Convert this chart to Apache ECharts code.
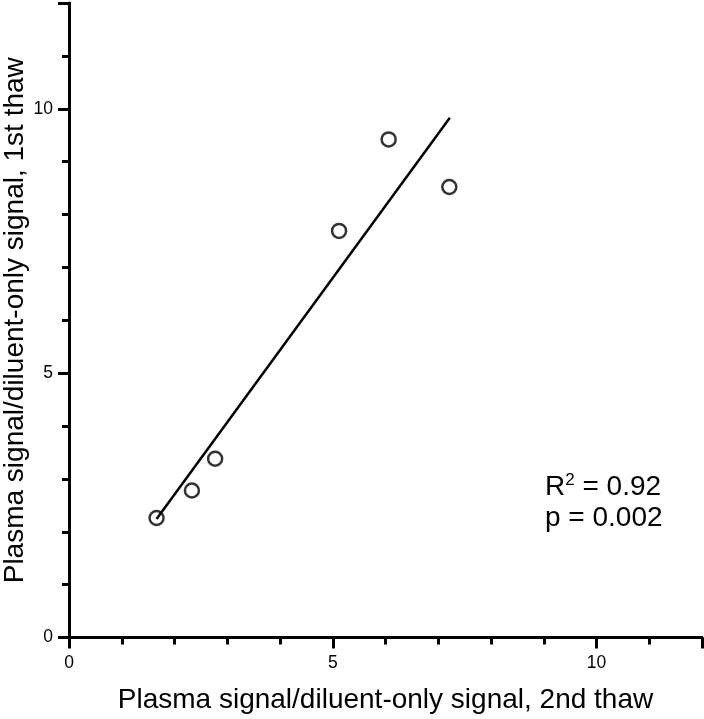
<!DOCTYPE html>
<html>
<head>
<meta charset="utf-8">
<script src="https://cdn.jsdelivr.net/npm/echarts@6/dist/echarts.min.js"></script>
<style>html,body{margin:0;padding:0;background:#fff;}#c{width:704px;height:719px;}</style>
</head>
<body>
<div id="c"></div>
<script>
// Data
var thaw2 = [1.66, 2.33, 2.77, 5.12, 6.06, 7.21];   // x: 2nd thaw
var thaw1 = [2.26, 2.78, 3.38, 7.69, 9.42, 8.52];   // y: 1st thaw
var fitX = [1.66, 7.22];
var fitY = [2.24, 9.83];
var statR2 = '0.92';
var statP = '0.002';
var xName = 'Plasma signal/diluent-only signal, 2nd thaw';
var yName = 'Plasma signal/diluent-only signal, 1st thaw';

var FONT = '"Liberation Sans", Arial, Helvetica, sans-serif';
var pts = thaw2.map(function (x, i) { return [x, thaw1[i]]; });
var fit = fitX.map(function (x, i) { return [x, fitY[i]]; });

function axisCommon(name, nameGap, labelMargin) {
  return {
    type: 'value', min: 0, max: 12, interval: 5,
    name: name, nameLocation: 'middle', nameGap: nameGap, nameMoveOverlap: false,
    nameTextStyle: { fontFamily: FONT, fontSize: 28, color: '#000' },
    axisLine: { show: true, onZero: false, lineStyle: { color: '#000', width: 3 } },
    axisTick: { show: true, inside: false, length: 11, lineStyle: { color: '#000', width: 3 } },
    minorTick: { show: true, splitNumber: 5, length: 7, lineStyle: { color: '#000', width: 3 } },
    splitLine: { show: false },
    minorSplitLine: { show: false },
    axisLabel: {
      show: true, margin: labelMargin, showMaxLabel: false,
      fontFamily: FONT, fontSize: 17.5, color: '#000'
    }
  };
}

var chart = echarts.init(document.getElementById('c'), null, { renderer: 'canvas' });
chart.setOption({
  animation: false,
  backgroundColor: '#fff',
  grid: { left: 69, right: 2, top: 3, bottom: 81.5, containLabel: false, outerBoundsMode: 'none' },
  xAxis: axisCommon(xName, 49, 17),
  yAxis: axisCommon(yName, 40, 16),
  series: [
    {
      type: 'line', data: fit, showSymbol: false, symbol: 'none',
      lineStyle: { color: '#000', width: 2.5 }, z: 2
    },
    {
      type: 'scatter', data: pts, symbol: 'circle', symbolSize: 14,
      itemStyle: { color: 'rgba(0,0,0,0)', borderColor: '#000', borderWidth: 2.5 }, z: 3
    }
  ],
  graphic: [
    {
      type: 'text', left: 545, top: 472,
      style: {
        text: '{a|R}{s|2}{a| = ' + statR2 + '}\n{a|p = ' + statP + '}',
        rich: {
          a: { fontFamily: FONT, fontSize: 28, color: '#000', lineHeight: 31 },
          s: { fontFamily: FONT, fontSize: 17, color: '#000', lineHeight: 31, verticalAlign: 'top', padding: [0, 0, 14, 0] }
        }
      }
    }
  ]
});
</script>
</body>
</html>
